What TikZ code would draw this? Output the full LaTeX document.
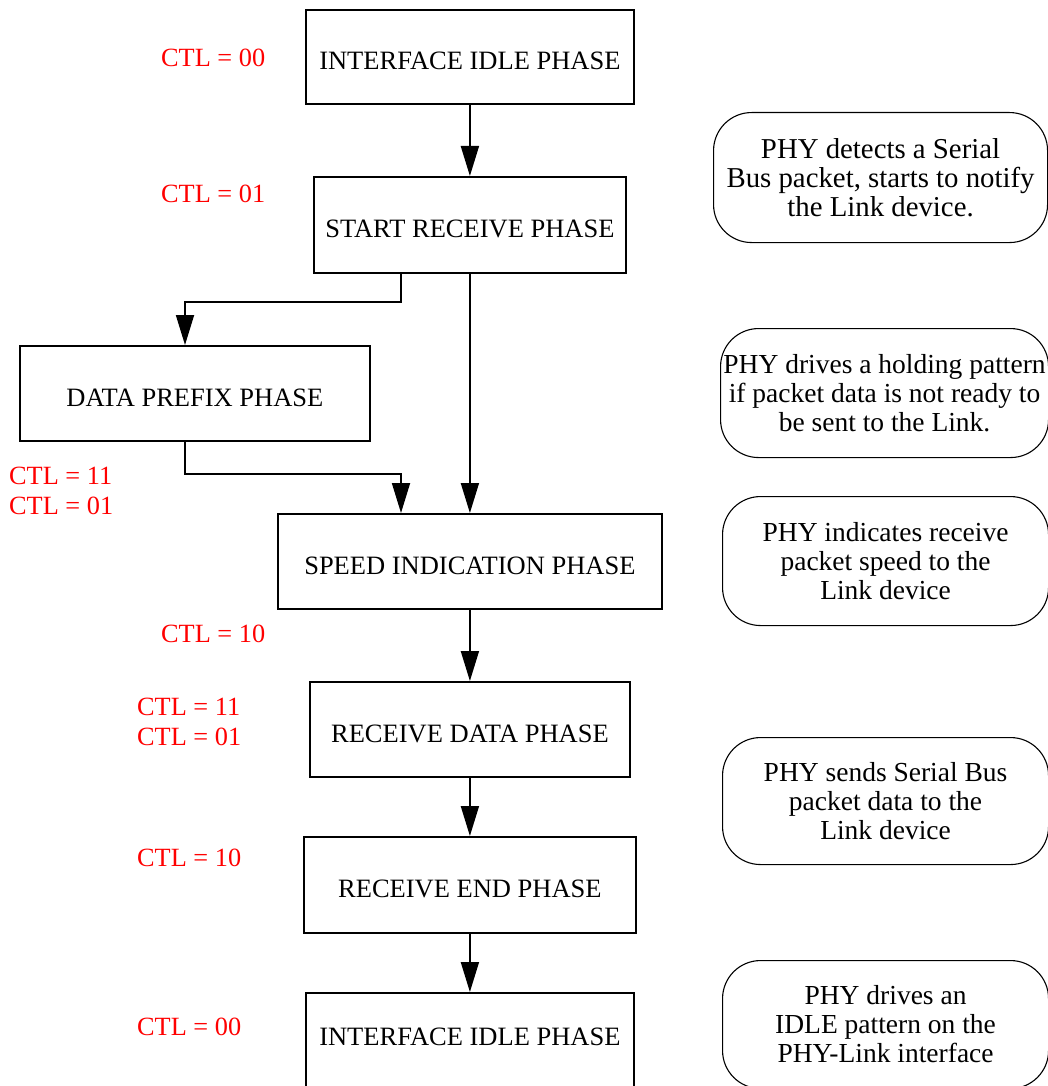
\documentclass[tikz,border=0pt]{standalone}
\usepackage{fontspec}
\setmainfont{Liberation Serif}
\usetikzlibrary{arrows.meta}
\begin{document}
\begin{tikzpicture}[x=1pt,y=-1pt,
  phase/.style={draw,line width=1.8pt,anchor=north west,inner sep=0pt,
    font=\fontsize{26.5}{29}\selectfont,text height=26pt,text depth=0pt},
  callout/.style={draw,line width=1.1pt,rounded corners=38pt,anchor=north west,
    inner sep=0pt,align=center,font=\fontsize{27.5}{29}\selectfont},
  ctl/.style={anchor=west,inner sep=0pt,align=left,text=red,
    font=\fontsize{26.3}{30}\selectfont},
  arr/.style={line width=1.8pt,-{Triangle[length=30pt,width=18pt]}}]
\useasboundingbox (0,0) rectangle (1048,1086);
% phase boxes
\node[phase,minimum width=328pt,minimum height=94pt] (b1) at (305,9) {INTERFACE IDLE PHASE};
\node[phase,minimum width=312pt,minimum height=96pt] (b2) at (313,176) {START RECEIVE PHASE};
\node[phase,minimum width=350pt,minimum height=95pt] (b3) at (19,345) {DATA PREFIX PHASE};
\node[phase,minimum width=384pt,minimum height=95pt] (b4) at (277,513) {SPEED INDICATION PHASE};
\node[phase,minimum width=320pt,minimum height=95pt] (b5) at (309,681) {RECEIVE DATA PHASE};
\node[phase,minimum width=332pt,minimum height=96pt] (b6) at (303,836) {RECEIVE END PHASE};
\node[phase,minimum width=328pt,minimum height=100pt,text height=17pt,text depth=12pt] (b7) at (305,992) {INTERFACE IDLE PHASE};
% CTL labels
\node[ctl] (c1) at (161,58) {CTL = 00};
\node[ctl] (c2) at (161,194) {CTL = 01};
\node[ctl] (c3) at (9,491) {CTL = 11\\CTL = 01};
\node[ctl] (c4) at (161,634) {CTL = 10};
\node[ctl] (c5) at (137,722) {CTL = 11\\CTL = 01};
\node[ctl] (c6) at (137,858) {CTL = 10};
\node[ctl] (c7) at (137,1027) {CTL = 00};
% callouts
\node[callout,minimum width=334pt,minimum height=130pt,font=\fontsize{28.8}{29}\selectfont] (r1) at (713,112)
  {PHY detects a Serial\\Bus packet, starts to notify\\the Link device.};
\node[callout,minimum width=328pt,minimum height=129pt] (r2) at (720,328)
  {PHY drives a holding pattern\\if packet data is not ready to\\be sent to the Link.};
\node[callout,minimum width=326pt,minimum height=129pt] (r3) at (722,496)
  {PHY indicates receive\\packet speed to the\\Link device};
\node[callout,minimum width=326pt,minimum height=127pt] (r4) at (722,737)
  {PHY sends Serial Bus\\packet data to the\\Link device};
\node[callout,minimum width=326pt,minimum height=128pt] (r5) at (722,960)
  {PHY drives an\\IDLE pattern on the\\PHY-Link interface};
% connectors
\coordinate (xa) at (401,0);
\coordinate (xb) at (185,0);
\draw[arr] (b1.south) -- (b2.north);
\draw[arr] (b2.south -| xa) -- ++(0,28) -| (b3.north -| xb);
\draw[arr] (b2.south) -- (b4.north);
\draw[arr] (b3.south -| xb) -- ++(0,32) -| (b4.north -| xa);
\draw[arr] (b4.south) -- (b5.north);
\draw[arr] (b5.south) -- (b6.north);
\draw[arr] (b6.south) -- (b7.north);
\end{tikzpicture}
\end{document}
